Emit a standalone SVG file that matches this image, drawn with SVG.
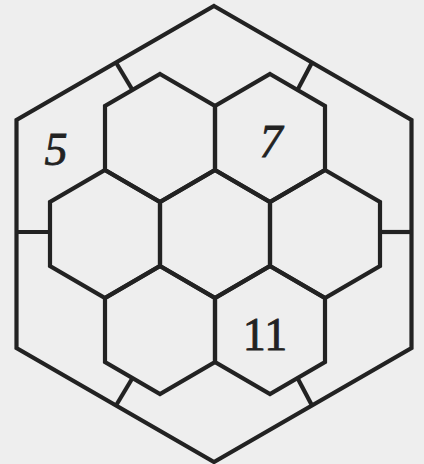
<svg xmlns="http://www.w3.org/2000/svg" width="424" height="464" viewBox="0 0 424 464">
  <style>
    .ln { fill: none; stroke: #222; stroke-width: 4.2; stroke-linejoin: miter; stroke-linecap: butt; }
    .num { font-family: "Liberation Serif", "Times New Roman", serif; font-size: 46px; fill: #222; stroke: #222; stroke-width: 0.8; text-anchor: middle; }
    .it { font-style: italic; }
  </style>
  <defs>
    <polygon id="hex" points="0,-64 55,-32 55,32 0,64 -55,32 -55,-32"/>
  </defs>
  <rect width="424" height="464" fill="#eeeeee"/>
  <g id="outer">
    <polygon class="ln" points="214,6 411.5,120 411.5,348 214,462 16.5,348 16.5,120"/>
  </g>
  <g id="connectors" class="ln">
    <line x1="116" y1="62.5" x2="132.5" y2="90"/>
    <line x1="312" y1="62.5" x2="297.5" y2="90"/>
    <line x1="16.5" y1="232" x2="50" y2="232"/>
    <line x1="380" y1="232" x2="411.5" y2="232"/>
    <line x1="132.5" y1="378" x2="116" y2="405.5"/>
    <line x1="297.5" y1="378" x2="312" y2="405.5"/>
  </g>
  <g id="hex-top-left"><use href="#hex" class="ln" x="160" y="138"/></g>
  <g id="hex-top-right"><use href="#hex" class="ln" x="270" y="138"/><text class="num it" x="271" y="157">7</text></g>
  <g id="hex-mid-left"><use href="#hex" class="ln" x="105" y="234"/></g>
  <g id="hex-mid-center"><use href="#hex" class="ln" x="215" y="234"/></g>
  <g id="hex-mid-right"><use href="#hex" class="ln" x="325" y="234"/></g>
  <g id="hex-bottom-left"><use href="#hex" class="ln" x="160" y="330"/></g>
  <g id="hex-bottom-right"><use href="#hex" class="ln" x="270" y="330"/><text class="num" x="265" y="350">11</text></g>
  <g id="label-5"><text class="num it" x="56" y="165">5</text></g>
</svg>
